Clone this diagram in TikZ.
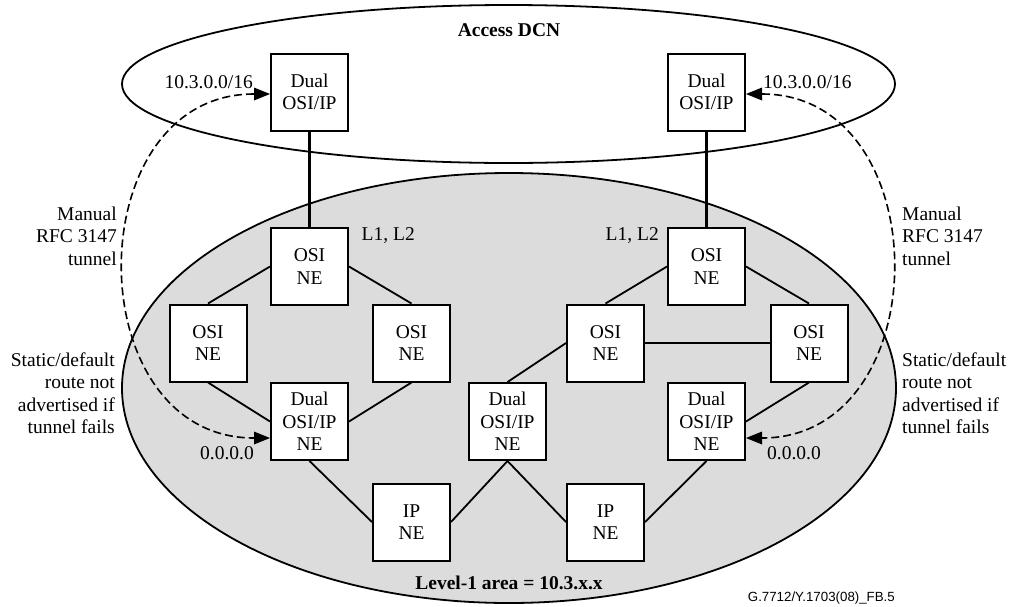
\documentclass[tikz,border=0pt]{standalone}
\usepackage{fontspec}
\setmainfont{Liberation Serif}
\newfontfamily\footfont{Liberation Sans}
\usetikzlibrary{arrows.meta}
\definecolor{areagray}{HTML}{DCDCDC}
\begin{document}
\begin{tikzpicture}[x=1pt,y=-1pt,
  ne/.style={draw,fill=white,line width=2pt,minimum width=77pt,minimum height=77pt,inner sep=0pt,align=center,font=\fontsize{19.5}{22.5}\selectfont},
  lbl/.style={inner sep=0pt,font=\fontsize{19.5}{22.5}\selectfont},
  link/.style={line width=1.8pt},
  thicklink/.style={line width=3pt},
  tip/.tip={Triangle[length=16pt,width=13pt,line width=0pt]},
  tunnel/.style={line width=1.6pt,dash pattern=on 8pt off 4pt,tip-tip},
  area/.style={line width=1.8pt}
]
\useasboundingbox (0,0) rectangle (1012,606);
% ellipses
\draw[area] (508.5,84) ellipse [x radius=386.5, y radius=79];
\draw[area,fill=areagray] (509,388) ellipse [x radius=387, y radius=215];
\node[lbl,font=\fontsize{19.5}{22.5}\selectfont\bfseries] (dcn) at (509,30) {Access DCN};
\node[lbl,font=\fontsize{19.5}{22.5}\selectfont\bfseries] (lvl) at (509,583) {Level-1 area = 10.3.x.x};
% nodes
\node[ne] (dTL) at (309.5,92) {Dual\\OSI/IP};
\node[ne] (dTR) at (706.5,92) {Dual\\OSI/IP};
\node[ne] (oTL) at (309.5,266.5) {OSI\\NE};
\node[ne] (oTR) at (706.5,266.5) {OSI\\NE};
\node[ne] (oL1) at (208,343) {OSI\\NE};
\node[ne] (oL2) at (411.5,343) {OSI\\NE};
\node[ne] (oR1) at (605.5,343) {OSI\\NE};
\node[ne] (oR2) at (809,343) {OSI\\NE};
\node[ne] (dL) at (309.5,421.5) {Dual\\OSI/IP\\NE};
\node[ne] (dM) at (507.5,421.5) {Dual\\OSI/IP\\NE};
\node[ne] (dR) at (706.5,421.5) {Dual\\OSI/IP\\NE};
\node[ne] (ipL) at (411.5,522) {IP\\NE};
\node[ne] (ipR) at (605.5,522) {IP\\NE};
% links
\draw[thicklink] (dTL.south) -- (oTL.north);
\draw[thicklink] (dTR.south) -- (oTR.north);
\draw[link] (oTL.west) -- (oL1.north);
\draw[link] (oTL.east) -- (oL2.north);
\draw[link] (oL1.south) -- (dL.west);
\draw[link] (oL2.south) -- (dL.east);
\draw[link] (dL.south) -- (ipL.west);
\draw[link] (ipL.east) -- (dM.south);
\draw[link] (dM.north) -- (oR1.west);
\draw[link] (oR1.east) -- (oR2.west);
\draw[link] (oTR.west) -- (oR1.north);
\draw[link] (oTR.east) -- (oR2.north);
\draw[link] (oR2.south) -- (dR.east);
\draw[link] (dR.south) -- (ipR.east);
\draw[link] (dM.south) -- (ipR.west);
% tunnels
\coordinate (tLa) at ([yshift=-2pt]dTL.west);
\coordinate (tLb) at ([yshift=-16.5pt]dL.west);
\coordinate (tRa) at ([yshift=-2pt]dTR.east);
\coordinate (tRb) at ([yshift=-16.5pt]dR.east);
\draw[tunnel] (tLa) .. controls +(-193,0) and +(-193,0) .. (tLb);
\draw[tunnel] (tRa) .. controls +(193,0) and +(193,0) .. (tRb);
% labels
\node[lbl,anchor=east] (pfxL) at (253,82) {10.3.0.0/16};
\node[lbl,anchor=west] (pfxR) at (763,82) {10.3.0.0/16};
\node[lbl,anchor=east] (l12L) at (415,236) {L1, L2};
\node[lbl,anchor=east] (l12R) at (659,236) {L1, L2};
\node[lbl,anchor=east,align=right] (manL) at (117,236) {Manual\\RFC 3147\\tunnel};
\node[lbl,anchor=west,align=left] (manR) at (902,236) {Manual\\RFC 3147\\tunnel};
\node[lbl,anchor=east,align=right] (stL) at (115,393) {Static/default\\route not\\advertised if\\tunnel fails};
\node[lbl,anchor=west,align=left] (stR) at (902,393) {Static/default\\route not\\advertised if\\tunnel fails};
\node[lbl,anchor=east] (dfL) at (254,453) {0.0.0.0};
\node[lbl,anchor=west] (dfR) at (767,453) {0.0.0.0};
\node[inner sep=0pt,anchor=east,font=\footfont\fontsize{13.3}{15}\selectfont] (fig) at (895,598) {G.7712/Y.1703(08)\_FB.5};
\end{tikzpicture}
\end{document}
